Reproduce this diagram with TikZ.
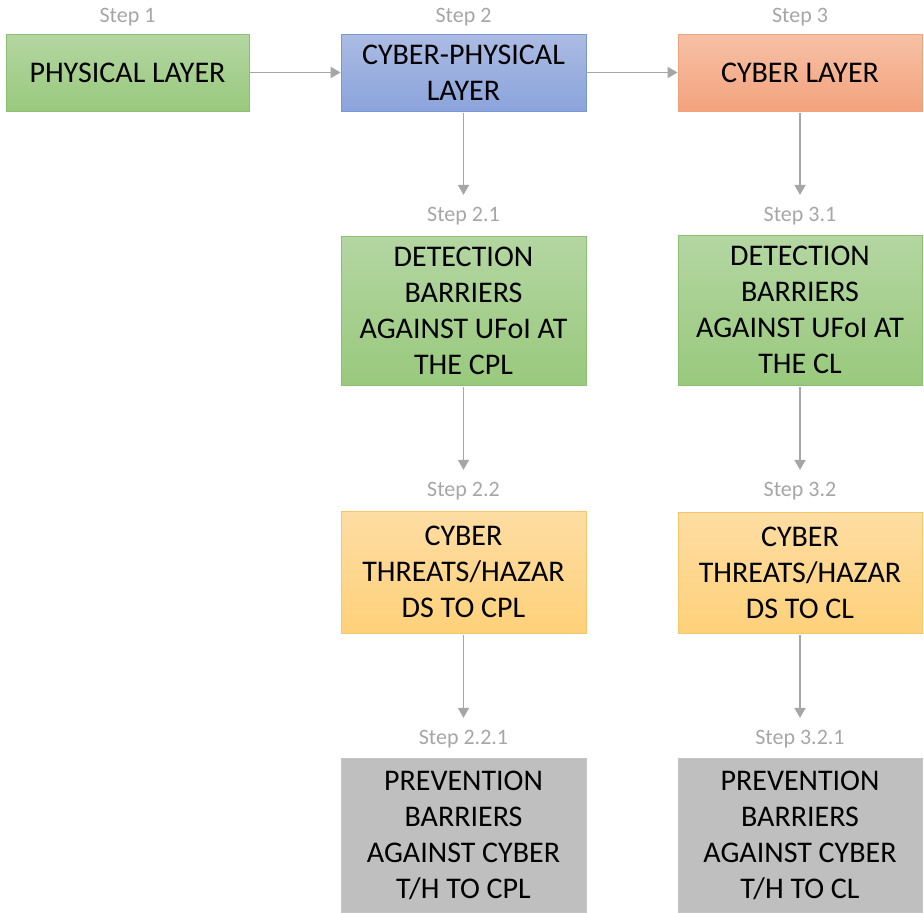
\documentclass[tikz,border=0pt]{standalone}
\usepackage{fontspec}
\setmainfont{Carlito}
\usetikzlibrary{arrows.meta}

% palette
\definecolor{stepgray}{HTML}{A6A6A6}
\definecolor{linkgray}{HTML}{A6A6A6}
\definecolor{greenedge}{HTML}{8DBF72}
\definecolor{greentop}{HTML}{B4D6A2}
\definecolor{greenbot}{HTML}{99C97D}
\definecolor{blueedge}{HTML}{7A96D4}
\definecolor{bluetop}{HTML}{ABBBE3}
\definecolor{bluebot}{HTML}{8BA4DC}
\definecolor{orangeedge}{HTML}{EFA27E}
\definecolor{orangetop}{HTML}{F6C1A6}
\definecolor{orangebot}{HTML}{F3A27C}
\definecolor{yellowedge}{HTML}{F7C66A}
\definecolor{yellowtop}{HTML}{FEDDA3}
\definecolor{yellowbot}{HTML}{FED17A}
\definecolor{grayedge}{HTML}{C4C4C4}
\definecolor{grayfill}{HTML}{BFBFBF}

\tikzset{
  box/.style={minimum width=245pt, align=center, inner sep=0pt,
    font=\fontsize{30}{36}\selectfont, text=black, line width=0.8pt},
  greenbox/.style={box, draw=greenedge, top color=greentop, bottom color=greenbot},
  bluebox/.style={box, draw=blueedge, top color=bluetop, bottom color=bluebot},
  orangebox/.style={box, draw=orangeedge, top color=orangetop, bottom color=orangebot},
  yellowbox/.style={box, draw=yellowedge, top color=yellowtop, bottom color=yellowbot},
  graybox/.style={box, draw=grayedge, fill=grayfill},
  steplabel/.style={font=\fontsize{22}{26}\selectfont, text=stepgray, inner sep=0pt},
  link/.style={draw=linkgray, line width=1.8pt,
    -{Triangle[length=10pt, width=11pt]}},
}

\begin{document}
\begin{tikzpicture}[x=1pt, y=-1pt]
  \useasboundingbox (0,0) rectangle (924,913);

  % top row
  \node[greenbox, minimum width=243pt, minimum height=77pt] (phys) at (127.5,72.5) {PHYSICAL LAYER};
  \node[bluebox, minimum height=77pt] (cpl) at (463.5,72.5) {CYBER-PHYSICAL\\LAYER};
  \node[orangebox, minimum width=244pt, minimum height=77pt] (cl) at (800,72.5) {CYBER LAYER};

  \node[steplabel] (s1) at (127.5,17) {Step 1};
  \node[steplabel] (s2) at (463.5,17) {Step 2};
  \node[steplabel] (s3) at (800,17) {Step 3};

  % cyber-physical column
  \node[steplabel] (s21) at (463.5,216) {Step 2.1};
  \node[greenbox, minimum height=149pt] (det2) at (463.5,310.5)
    {DETECTION\\BARRIERS\\AGAINST UFoI AT\\THE CPL};
  \node[steplabel] (s22) at (463.5,491) {Step 2.2};
  \node[yellowbox, minimum height=122pt] (thr2) at (463.5,572)
    {CYBER\\THREATS/HAZAR\\DS TO CPL};
  \node[steplabel] (s221) at (463.5,739) {Step 2.2.1};
  \node[graybox, minimum height=154pt] (prev2) at (463.5,835)
    {PREVENTION\\BARRIERS\\AGAINST CYBER\\T/H TO CPL};

  % cyber column
  \node[steplabel] (s31) at (800,216) {Step 3.1};
  \node[greenbox, minimum width=244pt, minimum height=150pt] (det3) at (800,310)
    {DETECTION\\BARRIERS\\AGAINST UFoI AT\\THE CL};
  \node[steplabel] (s32) at (800,491) {Step 3.2};
  \node[yellowbox, minimum width=244pt, minimum height=121pt] (thr3) at (800,572.5)
    {CYBER\\THREATS/HAZAR\\DS TO CL};
  \node[steplabel] (s321) at (800,739) {Step 3.2.1};
  \node[graybox, minimum width=244pt, minimum height=154pt] (prev3) at (800,835)
    {PREVENTION\\BARRIERS\\AGAINST CYBER\\T/H TO CL};

  % connectors
  \draw[link] (phys.east) -- (cpl.west);
  \draw[link] (cpl.east) -- (cl.west);
  \draw[link] ([yshift=-2pt]cpl.south) -- ([yshift=12pt]s21.north);
  \draw[link] ([yshift=-2pt]det2.south) -- ([yshift=12pt]s22.north);
  \draw[link] ([yshift=-2pt]thr2.south) -- ([yshift=12pt]s221.north);
  \draw[link] ([yshift=-2pt]cl.south) -- ([yshift=12pt]s31.north);
  \draw[link] ([yshift=-2pt]det3.south) -- ([yshift=12pt]s32.north);
  \draw[link] ([yshift=-2pt]thr3.south) -- ([yshift=12pt]s321.north);
\end{tikzpicture}
\end{document}
